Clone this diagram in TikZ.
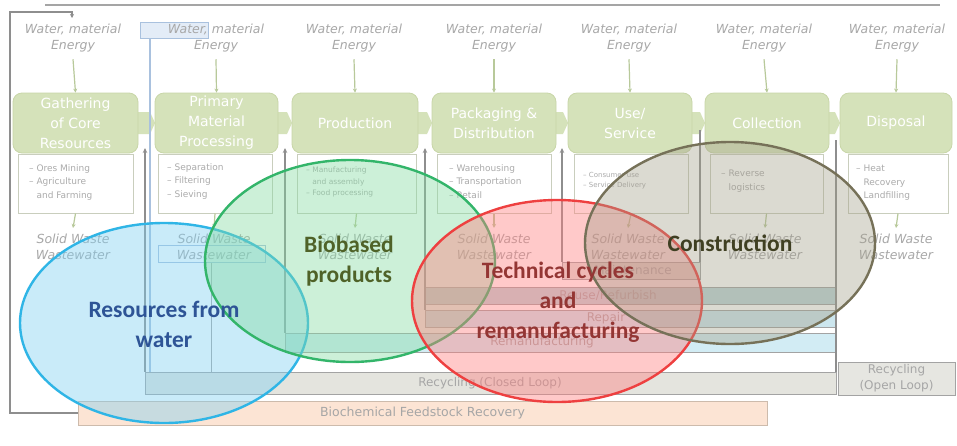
\documentclass[tikz,border=0pt]{standalone}
\usepackage{fontspec}
\setmainfont{Carlito}
\newfontfamily\bgfont{DejaVu Sans}
\usetikzlibrary{arrows.meta,shapes.geometric}
\definecolor{lblgray}{HTML}{A8A8A8}
\definecolor{stagefill}{HTML}{D5E2BA}
\definecolor{stageline}{HTML}{C8D6A8}
\definecolor{subline}{HTML}{C9CEBD}
\definecolor{subgray}{HTML}{ABABAB}
\definecolor{flowgreen}{HTML}{B8C99A}
\definecolor{retgray}{HTML}{8E8E8E}
\definecolor{barline}{HTML}{A3A3A3}
\definecolor{bartxt}{HTML}{A6A6A6}
\definecolor{maintfill}{HTML}{E2E2DC}
\definecolor{reusefill}{HTML}{BDD5D8}
\definecolor{repairfill}{HTML}{CCE6EE}
\definecolor{remanfill}{HTML}{D2ECF4}
\definecolor{recycfill}{HTML}{E4E4DE}
\definecolor{openfill}{HTML}{E6E6E1}
\definecolor{biofill}{HTML}{FCE4D4}
\definecolor{bioline}{HTML}{CDBBAC}
\definecolor{waterblue}{HTML}{A9C1DE}
\definecolor{waterfill}{HTML}{E3ECF7}
\definecolor{eblueline}{HTML}{2FB5E6}
\definecolor{ebluefill}{HTML}{7FD0F2}
\definecolor{egreenline}{HTML}{33B56A}
\definecolor{egreenfill}{HTML}{86DCA3}
\definecolor{eredline}{HTML}{EE4040}
\definecolor{eredfill}{HTML}{FF7F7F}
\definecolor{egrayline}{HTML}{767158}
\definecolor{egrayfill}{HTML}{A29E88}
\definecolor{tblue}{HTML}{2E5496}
\definecolor{tgreen}{HTML}{4F6228}
\definecolor{tred}{HTML}{943634}
\definecolor{tgray}{HTML}{3F3F22}
\begin{document}
\begin{tikzpicture}[x=1pt,y=-1pt,
  inlbl/.style={font=\bgfont\itshape\fontsize{12.5}{16}\selectfont, text=lblgray, align=center, inner sep=0pt},
  stagebox/.style={draw=stageline, fill=stagefill, rounded corners=9pt, minimum height=60pt, text=white, font=\bgfont\fontsize{14}{20}\selectfont, align=center, line width=0.8pt, inner sep=0pt},
  subbox/.style={draw=subline, fill=white, minimum height=59pt, line width=1pt, inner sep=0pt},
  subtext/.style={font=\bgfont\fontsize{9}{13.5}\selectfont, text=subgray, align=left, anchor=north west, inner sep=0pt},
  flow/.style={draw=flowgreen, line width=1.2pt, -{Stealth[length=4pt,width=4pt]}},
  retline/.style={draw=retgray, line width=1.3pt, {Stealth[length=5pt,width=4.5pt]}-},
  plainret/.style={draw=retgray, line width=1.3pt},
  bar/.style={draw=barline, line width=1pt, inner sep=0pt},
  bartext/.style={font=\bgfont\fontsize{12}{14}\selectfont, text=bartxt, inner sep=0pt},
  chev/.style={fill=stagefill},
  venn/.style={ellipse, minimum width=290pt, minimum height=202pt, line width=2.4pt, fill opacity=0.42, inner sep=0pt},
  venntext/.style={font=\bfseries\fontsize{23.5}{30}\selectfont, align=center, inner sep=0pt}
]
\useasboundingbox[fill=white] (0,0) rectangle (957,445);

% outer lines
\coordinate (tl) at (45,5);
\coordinate (tr) at (940,5);
\draw[draw=retgray!80, line width=1.5pt] (tl) -- (tr);

% water box
\node[draw=waterblue, fill=waterfill, minimum width=68pt, minimum height=16pt, inner sep=0pt, line width=1pt] (wbox) at (174,30) {};

% input labels
\foreach \n/\x in {1/73,2/216,3/354,4/494,5/629,6/764,7/897}{
  \node[inlbl] (i\n) at (\x,38) {Water, material\\Energy};
}

% chevrons between stage boxes
\foreach \a/\b in {138/155,278/292,418/432,556/568,692/705,829/840}{
  \fill[chev] (\a,112) -- (\b-5,112) -- (\b,123) -- (\b-5,134) -- (\a,134) -- cycle;
}

% stage boxes
\node[stagebox, minimum width=125pt] (g1) at (75.5,123) {Gathering\\of Core\\Resources};
\node[stagebox, minimum width=123pt] (g2) at (216.5,123) {Primary\\Material\\Processing};
\node[stagebox, minimum width=126pt] (g3) at (355,123) {Production};
\node[stagebox, minimum width=124pt] (g4) at (494,123) {Packaging \&\\Distribution};
\node[stagebox, minimum width=124pt] (g5) at (630,123) {Use/\\Service};
\node[stagebox, minimum width=124pt] (g6) at (767,123) {Collection};
\node[stagebox, minimum width=112pt] (g7) at (896,123) {Disposal};

\foreach \n in {1,...,7}{
  \draw[flow] ([yshift=-7pt]i\n.south) -- (g\n.north);
}

% sub boxes
\node[subbox, minimum width=115pt] (s1) at (75.5,183.5) {};
\node[subbox, minimum width=114pt] (s2) at (215,183.5) {};
\node[subbox, minimum width=119pt] (s3) at (356.5,183.5) {};
\node[subbox, minimum width=114pt] (s4) at (494,183.5) {};
\node[subbox, minimum width=114pt] (s5) at (631,183.5) {};
\node[subbox, minimum width=113pt] (s6) at (766.5,183.5) {};
\node[subbox, minimum width=100pt] (s7) at (898,183.5) {};

\node[subtext] (t1) at (29,164) {– Ores Mining\\– Agriculture\\\phantom{– }and Farming};
\node[subtext] (t2) at (167,163) {– Separation\\– Filtering\\– Sieving};
\node[subtext, font=\bgfont\fontsize{7.5}{11.5}\selectfont] (t3) at (306,167) {– Manufacturing\\\phantom{– }and assembly\\– Food processing};
\node[subtext] (t4) at (449,164) {– Warehousing\\– Transportation\\– Retail};
\node[subtext, font=\bgfont\fontsize{7}{10.5}\selectfont] (t5) at (583,172) {– Consumer use\\– Service Delivery};
\node[subtext] (t6) at (721,170) {– Reverse\\\phantom{– }logistics};
\node[subtext] (t7) at (856,165) {– Heat\\\phantom{– }Recovery\\– Landfilling};

% waste labels
\foreach \n/\x in {1/73,2/214,3/355,4/494,5/628,6/765,7/896}{
  \node[inlbl] (w\n) at (\x,247) {Solid Waste\\Wastewater};
  \draw[flow] (s\n.south) -- ([yshift=6pt]w\n.north);
}
\node[draw=waterblue, minimum width=107pt, minimum height=17pt, inner sep=0pt, line width=1pt] (wwbox) at (211.5,253.5) {};

% loop bars
\node[bar, fill=maintfill, minimum width=138pt, minimum height=17pt] (mt) at (631,270.5) {};
\node[bartext] (mtt) at (633,270.5) {Maintenance};
\node[bar, fill=reusefill, minimum width=411pt, minimum height=17pt] (ru) at (630.5,295.5) {};
\node[bartext] (rut) at (608,295.5) {Reuse/Refurbish};
\node[bar, fill=repairfill, minimum width=411pt, minimum height=17pt] (rp) at (630.5,318.5) {};
\node[bartext] (rpt) at (606,318.5) {Repair};
\node[bar, fill=remanfill, minimum width=551pt, minimum height=19pt] (rm) at (560.5,342.5) {};
\node[bartext] (rmt) at (542,342.5) {Remanufacturing};
\node[bar, fill=recycfill, minimum width=691pt, minimum height=22pt] (rc) at (490.5,383) {};
\node[bartext] (rct) at (490,383) {Recycling (Closed Loop)};
\node[bar, fill=openfill, minimum width=117pt, minimum height=33pt, align=center, text=bartxt, font=\bgfont\fontsize{12}{16}\selectfont] (ro) at (896.5,378.5) {Recycling\\(Open Loop)};
\node[bar, fill=biofill, draw=bioline, minimum width=689pt, minimum height=24pt, text=bartxt, font=\bgfont\fontsize{12.5}{14}\selectfont] (bio) at (422.5,413) {Biochemical Feedstock Recovery};

% return lines
\coordinate (r1) at (145,148);
\coordinate (r2) at (285,148);
\coordinate (r3) at (425,148);
\coordinate (r4) at (562,148);
\coordinate (r5) at (700,130);
\coordinate (r6) at (836,140);
\draw[retline] (r1) -- (r1 |- rc.north);
\draw[retline] (r2) -- (r2 |- rm.north);
\draw[retline] (r3) -- (r3 |- rp.north);
\draw[retline] (r4) -- (r4 |- mt.north);
\draw[plainret] (r5) -- (r5 |- mt.north);
\draw[plainret] (r6) -- (r6 |- rc.north);
\draw[draw=waterblue, line width=1.3pt] (wbox.south -| 150,0) -- (150,0 |- rc.north);
\draw[draw=retgray!80, line width=1.2pt] (wwbox.south) -- (wwbox.south |- rc.north);

% outer left loop
\coordinate (lt) at (72,18);
\draw[draw=retgray, line width=1.2pt, -{Stealth[length=4pt,width=4pt]}] (bio.west) -- (10,413) -- (10,12) -- (72,12) -- (lt);

% Venn ellipses
\node[venn, draw=eblueline, fill=ebluefill, minimum width=288pt, minimum height=200pt] (eb) at (164,323) {};
\node[venn, draw=egreenline, fill=egreenfill] (eg) at (350,261) {};
\node[venn, draw=eredline, fill=eredfill] (er) at (557,301) {};
\node[venn, draw=egrayline, fill=egrayfill, fill opacity=0.38] (ec) at (730,243) {};

\node[venntext, text=tblue] (ebt) at (164,324) {Resources from\\water};
\node[venntext, text=tgreen] (egt) at (349,261) {Biobased\\products};
\node[venntext, text=tred] (ert) at (558,302) {Technical cycles\\and\\remanufacturing};
\node[venntext, text=tgray] (ect) at (730,243) {Construction};
\end{tikzpicture}
\end{document}
